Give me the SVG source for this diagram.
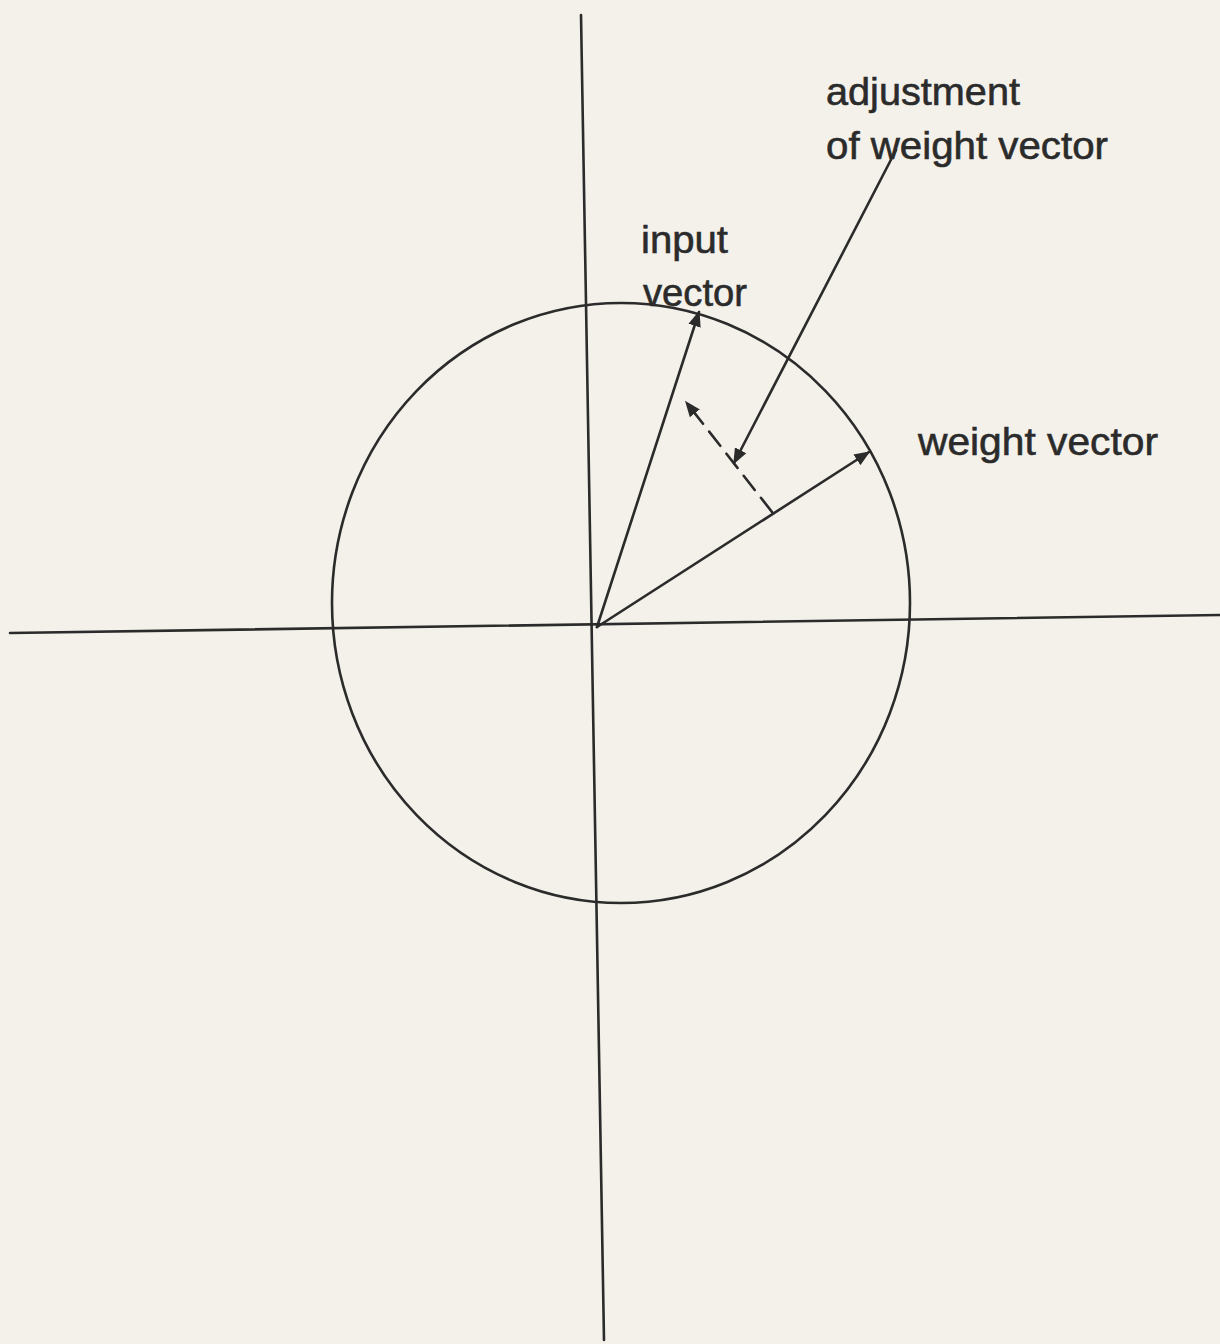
<svg xmlns="http://www.w3.org/2000/svg" width="1220" height="1344" viewBox="0 0 1220 1344">
<style>
.ln{stroke:#2b2b2b;stroke-width:2.6;fill:none;stroke-linecap:round}
.lbl{font-family:"Liberation Sans",Arial,sans-serif;font-size:39px;fill:#2b2b2b;stroke:#2b2b2b;stroke-width:0.6}
</style>
<defs>
<marker id="ahs" viewBox="0 0 10 10" refX="9" refY="5" markerWidth="16" markerHeight="16" orient="auto" markerUnits="userSpaceOnUse">
<path d="M0,1 L10,5 L0,9 Z" fill="#2b2b2b"/>
</marker>
</defs>
<rect width="1220" height="1344" fill="#f3f1ea"/>
<g id="axes">
<line class="ln" x1="581" y1="15" x2="604" y2="1340"/>
<line class="ln" x1="10" y1="633" x2="1220" y2="615"/>
</g>
<g id="circle">
<ellipse class="ln" cx="621" cy="603" rx="289" ry="300"/>
</g>
<g id="connectors">
<line class="ln" x1="597" y1="627" x2="699" y2="312" marker-end="url(#ahs)"/>
<line class="ln" x1="597" y1="627" x2="869" y2="452" marker-end="url(#ahs)"/>
<line class="ln" x1="772" y1="512" x2="686" y2="402" stroke-dasharray="18,10" marker-end="url(#ahs)"/>
<line class="ln" x1="896" y1="150" x2="734" y2="463" marker-end="url(#ahs)"/>
</g>
<g id="label-adjustment">
<text class="lbl" x="826" y="105" textLength="194" lengthAdjust="spacingAndGlyphs">adjustment</text>
<text class="lbl" x="826" y="159" textLength="282" lengthAdjust="spacingAndGlyphs">of weight vector</text>
</g>
<g id="label-input">
<text class="lbl" x="641" y="253" textLength="87" lengthAdjust="spacingAndGlyphs">input</text>
<text class="lbl" x="643" y="306" textLength="104" lengthAdjust="spacingAndGlyphs">vector</text>
</g>
<g id="label-weight">
<text class="lbl" x="918" y="455" textLength="240" lengthAdjust="spacingAndGlyphs">weight vector</text>
</g>
</svg>
